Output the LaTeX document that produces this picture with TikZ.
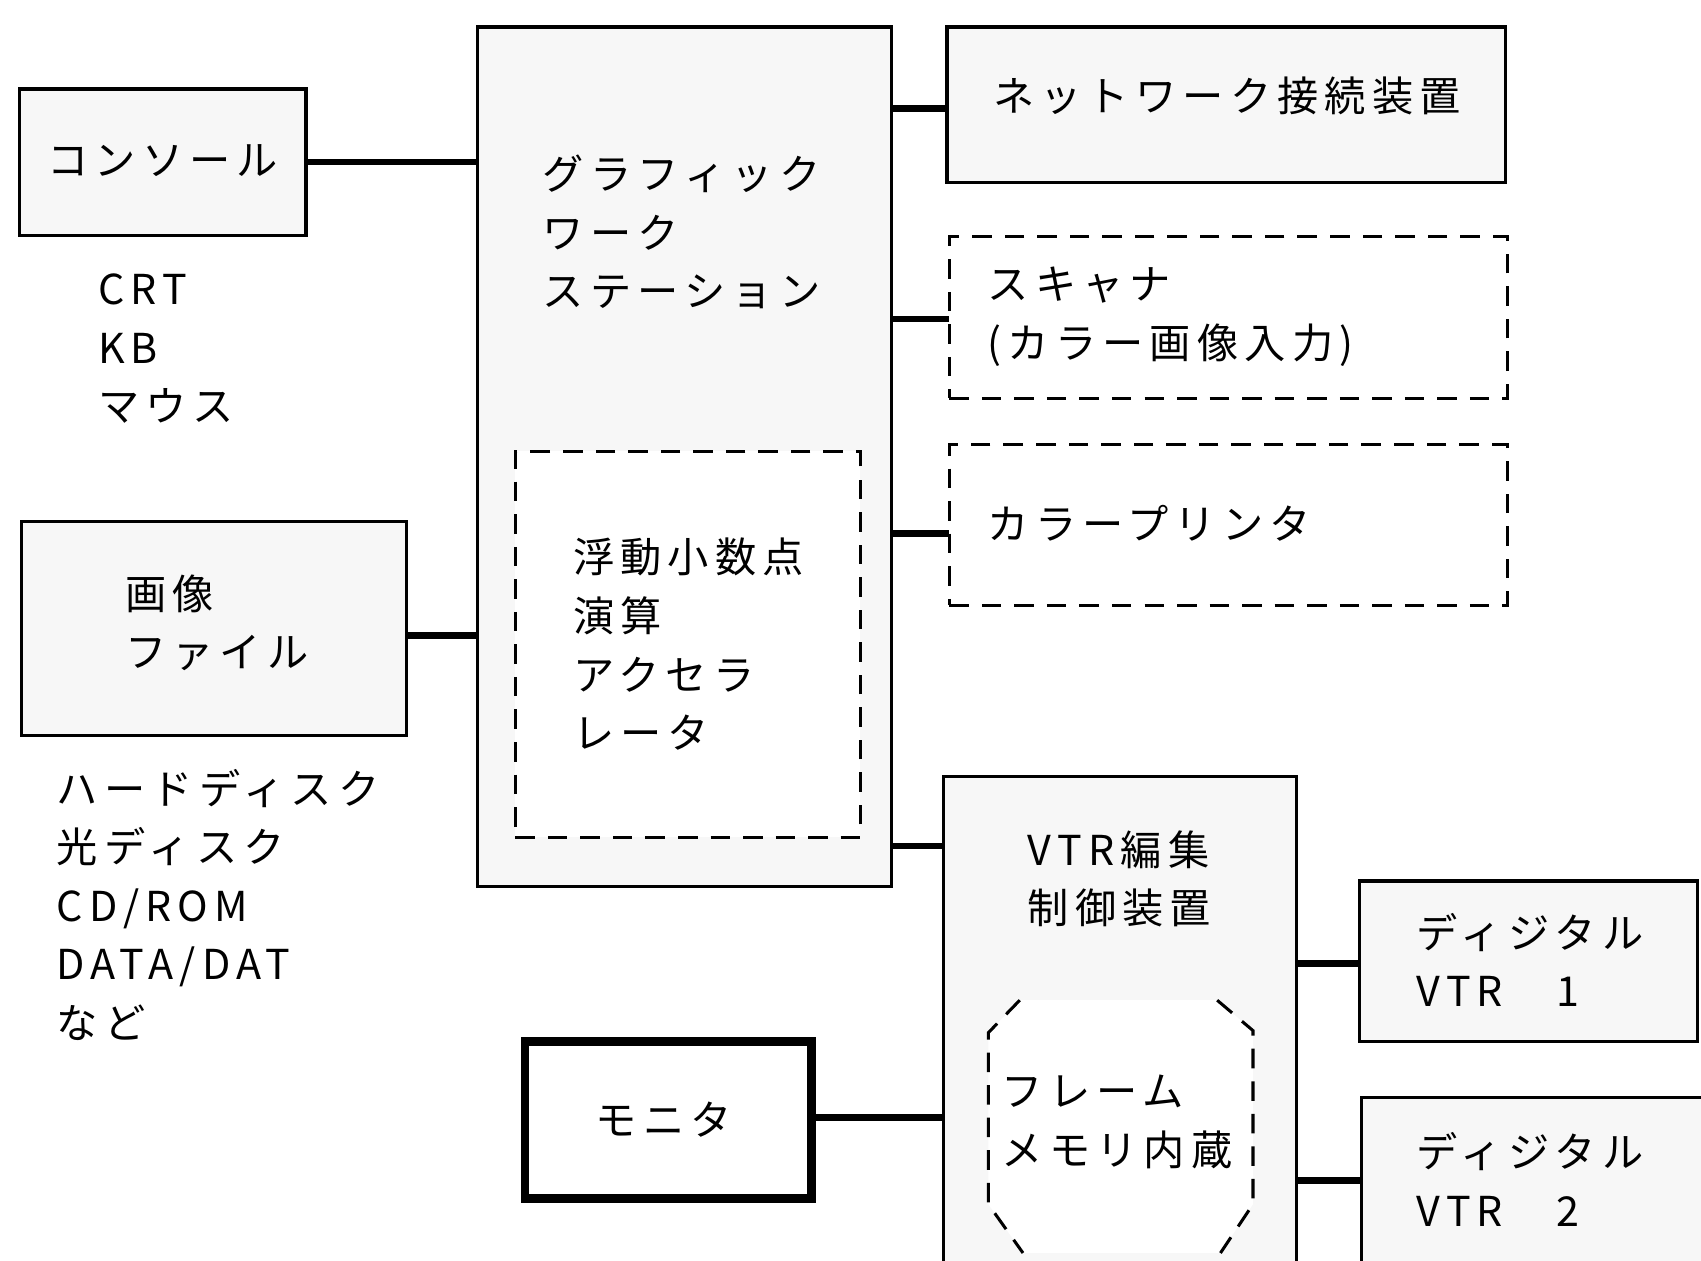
\documentclass[tikz,border=0pt]{standalone}
\usepackage{fontspec}
\setmainfont{Noto Sans CJK JP}[LetterSpace=15]
\begin{document}
\begin{tikzpicture}[x=0.5pt,y=-0.5pt,
  box/.style={draw, line width=1.5pt, fill=gray!6, inner sep=0, outer sep=0},
  dbox/.style={draw, line width=1.4pt, dash pattern=on 9pt off 6pt, fill=white, inner sep=0, outer sep=0},
  dline/.style={line width=1.4pt, dash pattern=on 9pt off 6pt},
  monbox/.style={draw, line width=4pt, fill=white, inner sep=0, outer sep=0},
  wire/.style={line width=3pt},
  lbl/.style={font=\fontsize{19}{27}\selectfont, align=left, inner sep=0, anchor=west}]
\useasboundingbox (0,0) rectangle (1568,1162);
% boxes
\node[box, minimum width=132pt, minimum height=67.5pt] (cons) at (150,149.5) {};
\node[box, minimum width=191pt, minimum height=396pt] (gws) at (631,421) {};
\node[dbox, minimum width=159pt, minimum height=178pt] (acc) at (634,594) {};
\node[box, minimum width=257.5pt, minimum height=71.5pt] (net) at (1130.5,96.5) {};
\node[dbox, minimum width=257.5pt, minimum height=74.5pt] (scan) at (1132.5,292.5) {};
\node[dbox, minimum width=257.5pt, minimum height=74pt] (prn) at (1132.5,484) {};
\node[box, minimum width=177.5pt, minimum height=98.5pt] (file) at (197.5,579.5) {};
\node[box, minimum width=162.5pt, minimum height=237pt] (vtr) at (1032.5,953) {};
\node[monbox, minimum width=132pt, minimum height=72.5pt] (mon) at (616,1032.5) {};
\node[box, minimum width=156pt, minimum height=74pt] (d1) at (1409,886) {};
\node[box, minimum width=158.5pt, minimum height=81.5pt] (d2) at (1413.5,1093.5) {};
% frame memory brackets
\fill[white] (940,922) -- (911,952) -- (911,1110) -- (943,1155) -- (1125,1155) -- (1155,1110) -- (1155,950) -- (1122,922) -- cycle;
\draw[dline] (940,922) -- (911,952) -- (911,1110) -- (943,1155);
\draw[dline] (1122,922) -- (1155,950) -- (1155,1110) -- (1125,1155);
% connectors
\draw[wire] (cons.east) -- (cons.east -| gws.west);
\draw[wire] (file.east |- 0,586) -- (gws.west |- 0,586);
\draw[wire] (gws.east |- 0,100) -- (net.west |- 0,100);
\draw[wire] (gws.east |- 0,294) -- (scan.west |- 0,294);
\draw[wire] (gws.east |- 0,492) -- (prn.west |- 0,492);
\draw[wire] (gws.east |- 0,780) -- (vtr.west |- 0,780);
\draw[wire] (mon.east |- 0,1030) -- (vtr.west |- 0,1030);
\draw[wire] (vtr.east |- 0,888) -- (d1.west |- 0,888);
\draw[wire] (vtr.east |- 0,1088) -- (d2.west |- 0,1088);
% labels
\node[lbl, anchor=center] (tcons) at (150,148) {コンソール};
\node[lbl] (tcrt) at (90,321.5) {CRT\\KB\\マウス};
\node[lbl] (tgws) at (500,214) {グラフィック\\ワーク\\ステーション};
\node[lbl] (tacc) at (528,594) {浮動小数点\\演算\\アクセラ\\レータ};
\node[lbl] (tnet) at (915,88) {ネットワーク接続装置};
\node[lbl] (tscan) at (910,292) {スキャナ\\(カラー画像入力)};
\node[lbl] (tprn) at (910,482) {カラープリンタ};
\node[lbl] (tfile) at (115,574) {画像\\ファイル};
\node[lbl] (tdisk) at (52,834) {ハードディスク\\光ディスク\\CD/ROM\\DATA/DAT\\など};
\node[lbl] (tvtr) at (947,810) {VTR編集\\制御装置};
\node[lbl] (tfm) at (923,1034) {フレーム\\メモリ内蔵};
\node[lbl, anchor=center] (tmon) at (612,1032) {モニタ};
\node[lbl] (td1) at (1305,885) {ディジタル\\VTR　1};
\node[lbl] (td2) at (1305,1087) {ディジタル\\VTR　2};
\end{tikzpicture}
\end{document}
